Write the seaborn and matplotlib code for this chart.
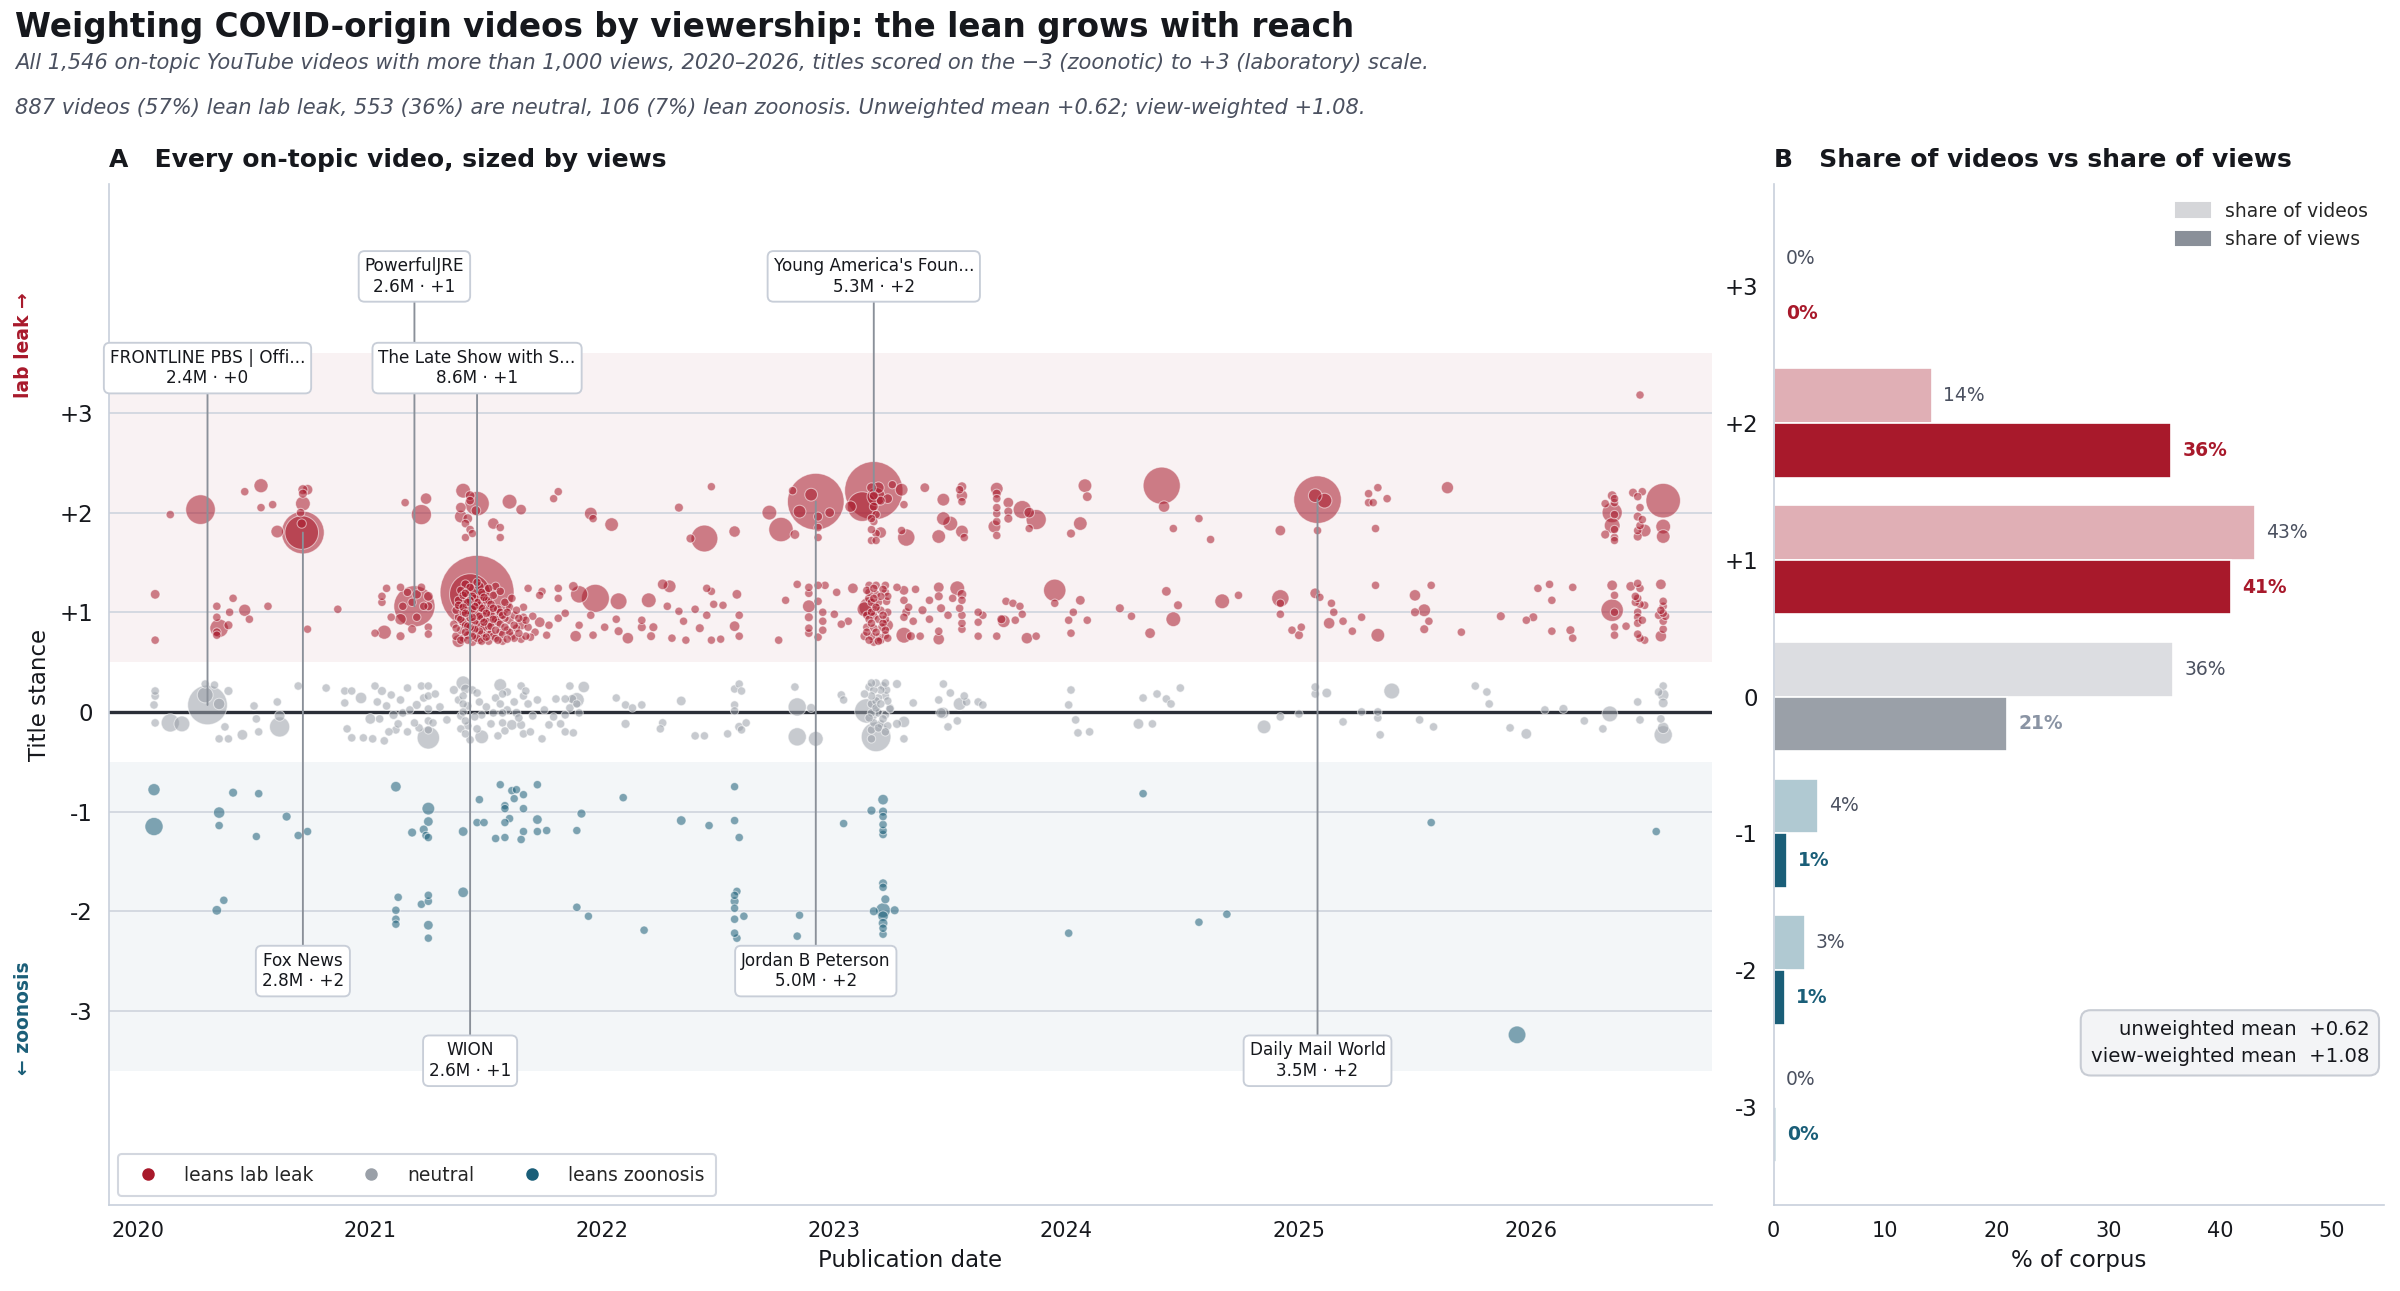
import numpy as np
import pandas as pd
import matplotlib
matplotlib.use("Agg")
import matplotlib.pyplot as plt
import matplotlib.dates as mdates
import matplotlib.transforms as mtransforms
from matplotlib.lines import Line2D
from matplotlib.patches import Patch
import seaborn as sns

# ---------------------------------------------------------------- data
# each point: (decimal year, plotted stance position incl. spread, views in thousands)
STANCE_P3 = [(2026.47, 3.18, 12)]

STANCE_P2 = [
    (2020.27, 2.03, 1300), (2020.14, 1.98, 15), (2020.46, 2.21, 15), (2020.53, 2.27, 220),
    (2020.53, 2.05, 15), (2020.58, 2.08, 15), (2020.71, 2.23, 60), (2020.71, 2.19, 30),
    (2020.71, 2.09, 250), (2020.70, 2.00, 20), (2020.73, 2.23, 80), (2020.705, 1.80, 1700),
    (2020.705, 1.89, 40), (2020.60, 1.81, 160), (2021.15, 2.10, 15), (2021.24, 2.14, 110),
    (2021.22, 1.98, 550), (2021.40, 2.22, 250), (2021.46, 2.09, 850), (2021.43, 2.17, 50),
    (2021.43, 2.12, 20), (2021.39, 2.05, 80), (2021.39, 1.96, 160), (2021.42, 1.94, 50),
    (2021.41, 1.89, 20), (2021.43, 1.83, 15), (2021.41, 1.75, 12), (2021.44, 1.79, 12),
    (2021.455, 2.02, 50), (2021.60, 2.11, 250), (2021.65, 2.03, 80), (2021.53, 1.89, 110),
    (2021.56, 1.85, 15), (2021.56, 1.75, 12), (2021.81, 2.21, 15), (2021.79, 2.14, 12),
    (2021.95, 1.99, 160), (2021.96, 1.94, 15), (2022.04, 1.88, 200), (2022.33, 2.05, 30),
    (2022.47, 2.26, 12), (2022.44, 1.74, 1050), (2022.38, 1.74, 30), (2022.57, 1.81, 110),
    (2022.72, 2.00, 250), (2022.77, 1.83, 850), (2022.90, 2.18, 160), (2022.82, 2.22, 15),
    (2022.85, 2.01, 160), (2022.98, 2.00, 50), (2022.93, 1.96, 30), (2022.93, 1.85, 15),
    (2022.93, 1.75, 12), (2022.83, 1.78, 50), (2023.12, 2.06, 1300), (2023.18, 2.16, 430),
    (2023.16, 2.25, 50), (2023.19, 2.25, 110), (2023.17, 2.17, 30), (2023.20, 2.12, 30),
    (2023.17, 2.06, 30), (2023.18, 1.98, 15), (2023.16, 1.94, 15), (2023.17, 1.91, 15),
    (2023.16, 1.83, 15), (2023.18, 1.79, 15), (2023.16, 1.72, 12), (2023.18, 1.72, 12),
    (2023.20, 1.80, 110), (2023.23, 2.14, 50), (2023.25, 2.28, 12), (2023.29, 2.23, 160),
    (2023.30, 2.08, 15), (2023.29, 1.82, 15), (2023.31, 1.75, 380), (2023.07, 2.06, 110),
    (2023.39, 2.25, 50), (2023.47, 2.13, 160), (2023.47, 1.94, 200), (2023.50, 1.89, 250),
    (2023.45, 1.76, 200), (2023.55, 2.26, 50), (2023.54, 2.23, 15), (2023.55, 2.17, 110),
    (2023.55, 2.11, 15), (2023.55, 1.81, 160), (2023.56, 1.75, 15), (2023.70, 2.24, 160),
    (2023.70, 2.19, 30), (2023.70, 2.14, 15), (2023.70, 2.05, 15), (2023.70, 1.99, 15),
    (2023.70, 1.91, 15), (2023.69, 1.86, 160), (2023.70, 1.77, 15), (2023.75, 2.10, 80),
    (2023.75, 2.01, 30), (2023.75, 1.94, 30), (2023.81, 2.03, 430), (2023.87, 1.93, 550),
    (2023.84, 2.00, 80), (2023.84, 1.84, 12), (2024.08, 2.27, 200), (2024.09, 2.16, 50),
    (2024.06, 1.89, 200), (2024.02, 1.79, 30), (2024.41, 2.27, 2100), (2024.42, 2.06, 110),
    (2024.46, 1.84, 15), (2024.57, 1.94, 15), (2024.62, 1.73, 15), (2025.07, 2.17, 200),
    (2025.11, 2.12, 250), (2025.08, 1.82, 15), (2024.92, 1.82, 80), (2025.30, 2.19, 15),
    (2025.34, 2.25, 15), (2025.38, 2.14, 15), (2025.30, 2.10, 15), (2025.32, 2.10, 12),
    (2025.33, 1.84, 15), (2025.64, 2.25, 140), (2026.35, 2.17, 50), (2026.36, 2.14, 15),
    (2026.36, 2.10, 15), (2026.32, 2.09, 15), (2026.35, 2.00, 550), (2026.36, 1.98, 15),
    (2026.35, 1.87, 300), (2026.36, 1.83, 15), (2026.32, 1.78, 30), (2026.36, 1.75, 15),
    (2026.36, 1.72, 12), (2026.44, 2.20, 30), (2026.48, 2.21, 15), (2026.46, 2.16, 15),
    (2026.47, 2.05, 15), (2026.46, 1.96, 30), (2026.48, 1.93, 15), (2026.47, 1.87, 15),
    (2026.49, 1.82, 160), (2026.46, 1.82, 15), (2026.46, 1.76, 30), (2026.57, 2.12, 1800),
    (2026.57, 1.86, 250), (2026.57, 1.76, 200),
]

STANCE_P1 = [
    (2020.075, 1.18, 50), (2020.075, 0.72, 15), (2020.34, 1.06, 15), (2020.34, 0.95, 15),
    (2020.35, 0.84, 450), (2020.34, 0.77, 15), (2020.34, 0.80, 20), (2020.39, 0.87, 30),
    (2020.41, 1.14, 15), (2020.395, 1.00, 15), (2020.46, 1.02, 140), (2020.48, 0.93, 15),
    (2020.56, 1.06, 15), (2020.73, 0.83, 12), (2020.86, 1.03, 15), (2021.07, 1.24, 15),
    (2021.05, 1.16, 15), (2021.05, 1.10, 15), (2021.02, 0.79, 12), (2021.06, 0.80, 220),
    (2021.09, 0.95, 15), (2021.13, 0.76, 30), (2021.13, 1.25, 15), (2021.16, 1.20, 15),
    (2021.14, 1.06, 15), (2021.18, 1.10, 15), (2021.25, 1.16, 50), (2021.25, 1.06, 30),
    (2021.23, 1.06, 15), (2021.20, 0.95, 15), (2021.18, 0.83, 30), (2021.25, 0.85, 15),
    (2021.25, 0.78, 12), (2021.13, 0.93, 110), (2021.22, 1.25, 20), (2021.20, 1.18, 40),
    (2021.36, 0.88, 15), (2021.37, 0.76, 30), (2021.37, 1.02, 15), (2021.38, 0.71, 160),
    (2021.38, 0.95, 15), (2021.38, 1.12, 15), (2021.39, 0.82, 15), (2021.39, 1.22, 15),
    (2021.40, 0.74, 15), (2021.40, 0.90, 30), (2021.40, 1.05, 15), (2021.41, 0.99, 15),
    (2021.41, 0.80, 15), (2021.41, 1.28, 30), (2021.42, 0.72, 15), (2021.42, 0.86, 15),
    (2021.42, 1.10, 15), (2021.43, 0.94, 15), (2021.43, 0.78, 30), (2021.43, 1.25, 15),
    (2021.44, 1.03, 15), (2021.44, 0.70, 15), (2021.44, 0.84, 15), (2021.45, 0.91, 15),
    (2021.45, 1.14, 15), (2021.45, 0.76, 15), (2021.46, 1.30, 15), (2021.46, 0.97, 15),
    (2021.46, 0.82, 30), (2021.47, 0.72, 15), (2021.47, 1.07, 15), (2021.47, 0.88, 15),
    (2021.48, 1.20, 15), (2021.48, 0.78, 15), (2021.48, 0.94, 15), (2021.49, 1.01, 15),
    (2021.49, 0.85, 15), (2021.49, 0.74, 15), (2021.50, 1.12, 15), (2021.50, 0.91, 15),
    (2021.50, 0.80, 80), (2021.51, 1.24, 15), (2021.51, 0.71, 15), (2021.52, 0.98, 15),
    (2021.52, 0.86, 15), (2021.52, 1.08, 15), (2021.53, 0.76, 15), (2021.53, 1.17, 15),
    (2021.54, 0.93, 15), (2021.54, 0.82, 15), (2021.55, 1.03, 30), (2021.55, 0.72, 15),
    (2021.56, 0.88, 15), (2021.56, 1.21, 15), (2021.57, 0.97, 15), (2021.57, 0.78, 15),
    (2021.58, 1.10, 15), (2021.58, 0.85, 15), (2021.59, 0.73, 15), (2021.59, 1.00, 15),
    (2021.60, 0.92, 30), (2021.60, 0.80, 15), (2021.61, 1.14, 15), (2021.62, 0.87, 15),
    (2021.62, 0.74, 15), (2021.63, 1.02, 15), (2021.64, 0.94, 15), (2021.64, 0.79, 15),
    (2021.65, 0.88, 110), (2021.66, 1.05, 15), (2021.67, 0.76, 15), (2021.67, 0.92, 15),
    (2021.47, 1.26, 40), (2021.44, 1.16, 15), (2021.40, 1.17, 15), (2021.51, 1.03, 15),
    (2021.54, 1.26, 15), (2021.37, 0.84, 15), (2021.38, 1.07, 15), (2021.39, 0.93, 15),
    (2021.39, 0.72, 15), (2021.40, 1.00, 15), (2021.41, 0.87, 15), (2021.41, 1.19, 15),
    (2021.42, 0.77, 15), (2021.42, 1.02, 30), (2021.43, 0.85, 15), (2021.43, 1.12, 15),
    (2021.44, 0.95, 15), (2021.44, 0.76, 15), (2021.45, 1.06, 15), (2021.45, 0.83, 15),
    (2021.46, 0.74, 15), (2021.46, 1.10, 15), (2021.47, 0.96, 15), (2021.47, 0.81, 15),
    (2021.48, 1.04, 15), (2021.48, 0.71, 15), (2021.49, 0.90, 15), (2021.49, 1.15, 15),
    (2021.50, 0.75, 15), (2021.50, 0.99, 15), (2021.51, 0.86, 15), (2021.51, 1.12, 15),
    (2021.52, 0.79, 15), (2021.53, 0.93, 15), (2021.53, 1.04, 15), (2021.54, 0.74, 15),
    (2021.55, 0.90, 15), (2021.56, 0.80, 15), (2021.56, 1.00, 15), (2021.57, 0.71, 15),
    (2021.58, 0.94, 15), (2021.59, 0.82, 15), (2021.60, 1.05, 15), (2021.61, 0.76, 15),
    (2021.62, 0.97, 15), (2021.63, 0.84, 15), (2021.65, 0.73, 15), (2021.66, 0.95, 15),
    (2021.68, 0.85, 15), (2021.70, 0.96, 15), (2021.71, 0.80, 15),
    (2021.68, 1.24, 12), (2021.74, 1.21, 12), (2021.73, 1.17, 12),
    (2021.81, 1.24, 15), (2021.81, 1.14, 12), (2021.875, 1.26, 50), (2021.90, 1.18, 380),
    (2021.97, 1.14, 1150), (2022.07, 1.11, 350), (2022.20, 1.12, 250), (2022.26, 1.28, 80),
    (2022.29, 1.26, 160), (2022.28, 1.06, 15), (2022.33, 1.01, 12), (2022.40, 1.03, 15),
    (2022.45, 1.24, 15), (2022.47, 1.21, 15), (2022.48, 1.08, 12), (2022.52, 1.07, 12),
    (2022.58, 1.18, 50), (2022.59, 0.97, 15), (2022.57, 0.86, 80), (2022.59, 0.76, 15),
    (2022.45, 0.97, 15), (2022.42, 0.84, 30), (2022.47, 0.72, 12), (2022.51, 0.73, 12),
    (2022.36, 0.72, 12), (2022.30, 0.74, 15), (2022.35, 0.91, 12), (2022.22, 0.85, 30),
    (2022.21, 0.76, 30), (2022.17, 0.92, 15), (2022.17, 0.85, 30), (2022.11, 0.74, 110),
    (2022.07, 0.81, 30), (2022.01, 0.85, 15), (2022.06, 0.93, 15), (2021.95, 0.97, 15),
    (2021.96, 0.77, 15), (2021.885, 0.76, 110), (2021.90, 0.87, 12), (2021.84, 0.99, 15),
    (2021.81, 0.94, 15), (2021.77, 0.87, 15), (2021.76, 0.77, 12), (2021.69, 0.75, 15),
    (2021.73, 0.90, 80), (2022.76, 0.72, 15), (2022.79, 1.12, 12), (2022.84, 1.28, 15),
    (2022.89, 1.25, 15), (2022.89, 1.19, 15), (2022.89, 1.06, 160), (2022.89, 0.95, 30),
    (2022.89, 0.84, 15), (2022.89, 0.79, 15), (2022.93, 1.27, 15), (2022.96, 1.27, 15),
    (2022.93, 1.11, 15), (2022.95, 1.00, 15), (2022.95, 0.91, 15), (2022.95, 0.82, 15),
    (2022.93, 0.75, 15), (2023.01, 1.20, 15), (2023.00, 0.98, 15), (2023.03, 0.88, 15),
    (2023.06, 0.91, 15), (2023.08, 1.24, 80),
    (2023.15, 1.27, 15), (2023.18, 1.27, 15), (2023.22, 1.27, 15), (2023.15, 1.20, 15),
    (2023.18, 1.18, 15), (2023.22, 1.20, 15), (2023.16, 1.10, 15), (2023.19, 1.10, 15),
    (2023.225, 1.11, 15), (2023.13, 1.03, 250), (2023.16, 1.00, 15), (2023.20, 1.02, 15),
    (2023.23, 1.00, 15), (2023.15, 0.93, 15), (2023.19, 0.93, 15), (2023.22, 0.93, 15),
    (2023.14, 0.85, 15), (2023.17, 0.84, 15), (2023.205, 0.85, 15), (2023.23, 0.87, 110),
    (2023.16, 0.76, 15), (2023.19, 0.75, 15), (2023.22, 0.77, 15), (2023.17, 0.70, 15),
    (2023.13, 0.76, 30), (2023.15, 1.05, 550), (2023.17, 1.14, 15), (2023.20, 1.16, 15),
    (2023.18, 1.05, 15), (2023.21, 0.89, 15), (2023.16, 0.89, 15), (2023.18, 0.80, 15),
    (2023.20, 0.72, 15), (2023.15, 1.14, 30), (2023.14, 1.22, 15), (2023.17, 1.24, 15),
    (2023.21, 1.23, 15), (2023.23, 1.16, 15), (2023.14, 0.97, 15), (2023.17, 0.96, 15),
    (2023.21, 0.97, 15), (2023.14, 0.80, 15), (2023.22, 0.82, 15), (2023.15, 0.72, 15),
    (2023.19, 0.71, 15), (2023.23, 0.74, 15),
    (2023.27, 1.25, 15), (2023.30, 1.22, 50), (2023.35, 1.23, 15), (2023.30, 1.12, 15),
    (2023.32, 1.05, 15), (2023.30, 0.95, 15), (2023.31, 1.00, 30), (2023.34, 0.91, 15),
    (2023.30, 0.77, 300), (2023.33, 0.76, 30), (2023.37, 0.76, 15), (2023.38, 1.02, 30),
    (2023.41, 0.93, 15), (2023.41, 1.12, 15), (2023.45, 1.25, 80), (2023.45, 1.16, 30),
    (2023.46, 1.04, 30), (2023.45, 0.81, 15), (2023.45, 0.73, 110), (2023.49, 0.97, 15),
    (2023.51, 1.14, 15), (2023.53, 1.24, 250), (2023.55, 1.18, 50), (2023.55, 1.12, 15),
    (2023.54, 1.04, 15), (2023.55, 0.97, 15), (2023.55, 0.89, 15), (2023.55, 0.83, 15),
    (2023.62, 1.00, 15), (2023.62, 0.90, 12), (2023.62, 0.76, 12), (2023.64, 0.97, 15),
    (2023.70, 0.76, 15), (2023.74, 1.11, 15), (2023.77, 1.09, 12), (2023.72, 0.93, 30),
    (2023.73, 0.91, 160), (2023.78, 0.92, 15), (2023.80, 1.06, 12), (2023.81, 0.98, 12),
    (2023.83, 0.74, 110), (2023.87, 0.76, 15), (2023.95, 1.22, 700), (2023.95, 1.09, 15),
    (2024.06, 1.12, 50), (2024.03, 1.00, 15), (2024.01, 0.92, 15), (2024.09, 0.92, 15),
    (2024.02, 0.79, 15), (2024.23, 1.04, 30), (2024.28, 0.96, 15), (2024.36, 0.79, 80),
    (2024.43, 1.21, 50), (2024.48, 1.07, 30), (2024.46, 0.93, 250), (2024.67, 1.11, 250),
    (2024.74, 1.17, 15), (2024.92, 1.14, 380), (2024.92, 1.09, 15), (2024.92, 0.98, 15),
    (2024.97, 0.82, 15), (2025.01, 0.85, 15), (2025.00, 0.77, 30), (2025.07, 1.19, 80),
    (2025.09, 1.15, 12), (2025.14, 1.09, 15), (2025.15, 1.00, 15), (2025.13, 0.89, 110),
    (2025.19, 0.91, 15), (2025.23, 0.81, 15), (2025.27, 0.95, 15), (2025.33, 1.27, 15),
    (2025.34, 0.77, 200), (2025.50, 1.17, 110), (2025.50, 1.00, 30), (2025.54, 1.02, 160),
    (2025.56, 0.91, 15), (2025.54, 0.83, 30), (2025.57, 1.27, 15), (2025.70, 0.80, 15),
    (2025.87, 0.96, 30), (2025.98, 0.92, 15), (2026.01, 0.95, 30), (2026.03, 1.24, 15),
    (2026.08, 1.28, 15), (2026.09, 1.12, 15), (2026.09, 0.81, 15), (2026.17, 0.82, 30),
    (2026.18, 0.74, 15), (2026.18, 1.25, 15), (2026.35, 1.27, 80), (2026.36, 1.17, 15),
    (2026.35, 1.02, 700), (2026.36, 1.00, 15), (2026.36, 0.85, 15), (2026.36, 0.77, 15),
    (2026.41, 0.86, 15), (2026.43, 1.26, 50), (2026.46, 1.29, 15), (2026.47, 1.24, 15),
    (2026.45, 1.16, 15), (2026.46, 1.14, 15), (2026.45, 1.10, 15), (2026.47, 1.08, 15),
    (2026.49, 1.07, 15), (2026.46, 1.00, 15), (2026.46, 0.95, 15), (2026.48, 0.92, 15),
    (2026.46, 0.89, 15), (2026.46, 0.78, 15), (2026.47, 0.74, 15), (2026.49, 0.72, 15),
    (2026.56, 1.28, 80), (2026.57, 1.11, 15), (2026.57, 1.06, 15), (2026.56, 1.02, 15),
    (2026.57, 0.99, 15), (2026.55, 0.97, 15), (2026.58, 0.96, 15), (2026.57, 0.91, 15),
    (2026.57, 0.83, 15), (2026.56, 0.76, 110),
]

STANCE_0 = [
    (2020.29, 0.17, 300), (2020.075, 0.21, 15), (2020.075, 0.16, 15), (2020.07, 0.07, 15),
    (2020.075, -0.11, 15), (2020.14, -0.11, 430), (2020.19, -0.12, 300), (2020.29, 0.28, 12),
    (2020.33, 0.27, 12), (2020.35, 0.08, 110), (2020.39, 0.21, 30), (2020.375, -0.15, 15),
    (2020.35, -0.27, 12), (2020.39, -0.27, 12), (2020.45, -0.23, 80), (2020.50, 0.06, 15),
    (2020.51, -0.07, 15), (2020.52, -0.20, 12), (2020.60, 0.10, 15), (2020.61, -0.04, 80),
    (2020.61, -0.15, 550), (2020.69, 0.26, 15), (2020.81, 0.24, 15), (2020.89, 0.21, 12),
    (2020.92, 0.21, 12), (2020.89, 0.09, 12), (2020.90, -0.17, 12), (2020.92, -0.26, 15),
    (2020.97, -0.26, 12), (2020.96, 0.14, 110), (2021.00, -0.07, 80), (2021.02, 0.26, 12),
    (2021.05, 0.21, 30), (2021.07, 0.06, 15), (2021.09, 0.17, 12), (2021.10, -0.03, 30),
    (2021.04, -0.07, 15), (2021.01, -0.27, 15), (2021.06, -0.29, 15), (2021.11, -0.18, 15),
    (2021.16, 0.24, 12), (2021.20, 0.07, 30), (2021.22, 0.26, 12), (2021.25, 0.26, 12),
    (2021.25, 0.16, 12), (2021.25, 0.03, 12), (2021.25, -0.09, 12), (2021.25, -0.26, 700),
    (2021.25, -0.18, 12), (2021.28, 0.18, 12), (2021.27, -0.11, 12), (2021.14, -0.01, 15),
    (2021.12, -0.12, 15), (2021.16, -0.20, 12), (2021.19, -0.11, 12), (2021.36, 0.22, 30),
    (2021.40, 0.29, 220), (2021.41, 0.23, 50), (2021.40, 0.16, 12), (2021.40, 0.08, 12),
    (2021.40, 0.00, 12), (2021.41, -0.09, 12), (2021.39, -0.17, 12), (2021.41, -0.22, 12),
    (2021.43, -0.28, 15), (2021.48, -0.25, 200), (2021.46, 0.19, 15), (2021.47, 0.10, 12),
    (2021.45, -0.05, 12), (2021.48, -0.03, 15), (2021.53, -0.01, 12), (2021.56, 0.27, 160),
    (2021.57, 0.18, 12), (2021.56, 0.08, 12), (2021.57, -0.01, 12), (2021.57, -0.11, 12),
    (2021.58, -0.19, 12), (2021.55, -0.24, 12), (2021.61, -0.13, 80), (2021.63, -0.01, 30),
    (2021.65, 0.26, 15), (2021.66, 0.16, 12), (2021.68, 0.08, 15), (2021.67, 0.21, 12),
    (2021.65, -0.13, 30), (2021.66, -0.22, 15), (2021.69, -0.20, 12), (2021.74, -0.27, 12),
    (2021.77, -0.13, 15), (2021.79, -0.05, 12), (2021.80, 0.13, 15), (2021.84, 0.13, 15),
    (2021.84, -0.03, 12), (2021.86, 0.26, 15), (2021.87, 0.13, 30), (2021.84, -0.20, 12),
    (2021.875, -0.21, 12), (2021.89, 0.08, 12), (2021.90, -0.01, 12), (2021.92, 0.25, 110),
    (2021.89, 0.12, 250), (2021.03, 0.10, 15), (2021.08, -0.20, 15), (2021.13, 0.12, 15),
    (2021.17, 0.02, 15), (2021.21, -0.16, 15), (2021.23, 0.14, 15), (2021.30, 0.05, 15),
    (2021.33, -0.08, 15), (2021.38, 0.12, 15), (2021.39, -0.04, 15), (2021.42, 0.06, 15),
    (2021.42, -0.14, 15), (2021.44, 0.22, 15), (2021.46, -0.17, 15), (2021.50, 0.05, 15),
    (2021.52, -0.12, 15), (2021.54, 0.14, 15), (2021.59, 0.02, 15), (2021.59, 0.20, 15),
    (2021.62, 0.10, 15), (2021.64, -0.06, 15), (2021.70, -0.04, 15), (2021.72, 0.12, 15),
    (2021.75, 0.02, 15), (2021.82, -0.12, 15), (2021.86, 0.04, 15),
    (2022.06, 0.14, 12), (2022.10, 0.07, 15), (2022.13, 0.04, 12),
    (2022.17, 0.07, 15), (2022.10, -0.12, 30), (2022.25, -0.17, 12), (2022.26, -0.11, 15),
    (2022.34, 0.11, 50), (2022.40, -0.24, 15), (2022.44, -0.24, 12), (2022.54, -0.22, 12),
    (2022.57, 0.23, 12), (2022.59, 0.28, 12), (2022.60, 0.21, 12), (2022.57, 0.07, 12),
    (2022.57, 0.01, 12), (2022.59, -0.15, 30), (2022.62, -0.11, 12), (2022.60, -0.18, 12),
    (2022.84, 0.05, 430), (2022.84, -0.25, 430), (2022.92, -0.27, 250), (2022.90, 0.04, 30),
    (2022.83, 0.25, 15), (2023.03, 0.17, 15), (2023.04, 0.12, 12), (2023.14, 0.01, 850),
    (2023.18, -0.25, 1300), (2023.16, 0.29, 15), (2023.18, 0.29, 15), (2023.22, 0.29, 15),
    (2023.17, 0.22, 15), (2023.20, 0.22, 15), (2023.225, 0.22, 15), (2023.16, 0.16, 15),
    (2023.19, 0.14, 15), (2023.22, 0.16, 15), (2023.16, 0.08, 15), (2023.20, 0.08, 15),
    (2023.24, 0.04, 15), (2023.16, -0.01, 15), (2023.19, -0.01, 15), (2023.22, -0.03, 15),
    (2023.17, -0.11, 15), (2023.20, -0.12, 15), (2023.16, -0.18, 15), (2023.22, -0.20, 15),
    (2023.16, -0.27, 15), (2023.13, 0.18, 15), (2023.27, -0.12, 30), (2023.30, -0.10, 110),
    (2023.30, -0.27, 15), (2023.27, 0.28, 30), (2023.24, 0.03, 15), (2023.34, 0.09, 15),
    (2023.15, 0.25, 15), (2023.21, 0.26, 15), (2023.18, 0.11, 15), (2023.23, 0.11, 15),
    (2023.18, 0.04, 15), (2023.15, -0.06, 15), (2023.21, -0.07, 15), (2023.19, -0.16, 15),
    (2023.23, -0.14, 15),
    (2023.47, 0.28, 15), (2023.45, 0.12, 15), (2023.50, 0.19, 15), (2023.46, -0.01, 80),
    (2023.47, -0.01, 110), (2023.49, -0.15, 15), (2023.53, -0.09, 15), (2023.54, 0.08, 160),
    (2023.56, 0.16, 15), (2023.57, 0.10, 15), (2023.62, 0.10, 15), (2023.64, 0.07, 15),
    (2024.02, 0.22, 15), (2024.01, 0.07, 15), (2024.04, -0.08, 15), (2024.05, -0.21, 15),
    (2024.10, -0.20, 15), (2024.31, -0.12, 80), (2024.37, -0.12, 15), (2024.33, 0.14, 15),
    (2024.39, 0.18, 15), (2024.43, 0.13, 15), (2024.45, 0.08, 15), (2024.49, 0.24, 15),
    (2024.85, -0.15, 200), (2024.92, -0.05, 15), (2025.00, -0.02, 15), (2025.07, 0.25, 15),
    (2025.07, 0.18, 15), (2025.12, 0.19, 50), (2025.19, -0.10, 15), (2025.27, 0.00, 15),
    (2025.34, 0.00, 15), (2025.34, -0.06, 15), (2025.35, -0.23, 15), (2025.40, 0.21, 300),
    (2025.52, -0.08, 15), (2025.58, -0.15, 15), (2025.76, 0.26, 15), (2025.81, 0.20, 15),
    (2025.82, 0.08, 15), (2025.91, -0.16, 15), (2025.98, -0.22, 80), (2026.06, 0.02, 15),
    (2026.14, 0.03, 30), (2026.23, -0.09, 15), (2026.31, -0.17, 15), (2026.34, -0.02, 300),
    (2026.46, 0.10, 15), (2026.47, -0.08, 15), (2026.57, 0.26, 15), (2026.55, 0.20, 15),
    (2026.57, 0.17, 110), (2026.57, 0.09, 50), (2026.56, -0.07, 15), (2026.57, -0.16, 110),
    (2026.57, -0.23, 430),
]

STANCE_M1 = [
    (2020.07, -0.78, 140), (2020.07, -1.15, 430), (2020.35, -1.01, 110), (2020.35, -1.14, 15),
    (2020.41, -0.81, 30), (2020.52, -0.82, 15), (2020.64, -1.05, 30), (2020.51, -1.25, 12),
    (2020.69, -1.24, 15), (2020.73, -1.20, 15), (2021.11, -0.75, 80), (2021.25, -0.97, 160),
    (2021.25, -1.10, 50), (2021.23, -1.18, 30), (2021.18, -1.21, 30), (2021.24, -1.24, 15),
    (2021.25, -1.26, 15), (2021.40, -1.20, 50), (2021.46, -1.11, 15), (2021.49, -1.11, 15),
    (2021.47, -0.88, 15), (2021.56, -0.73, 12), (2021.61, -0.79, 15), (2021.63, -0.78, 12),
    (2021.62, -0.87, 12), (2021.66, -0.83, 12), (2021.58, -0.94, 12), (2021.58, -0.97, 12),
    (2021.66, -0.97, 15), (2021.60, -1.07, 15), (2021.58, -1.11, 12), (2021.66, -1.20, 15),
    (2021.54, -1.27, 15), (2021.58, -1.26, 12), (2021.65, -1.28, 15), (2021.72, -0.73, 15),
    (2021.72, -1.08, 50), (2021.72, -1.20, 15), (2021.76, -1.19, 15), (2021.89, -1.19, 12),
    (2021.91, -1.02, 30), (2022.09, -0.86, 15), (2022.34, -1.09, 50), (2022.46, -1.14, 15),
    (2022.57, -0.75, 12), (2022.57, -1.09, 15), (2022.59, -1.26, 15), (2023.21, -0.88, 80),
    (2023.16, -0.99, 30), (2023.21, -1.00, 30), (2023.21, -1.05, 15), (2023.21, -1.13, 15),
    (2023.21, -1.19, 15), (2023.21, -1.23, 15), (2023.04, -1.12, 15), (2024.33, -0.82, 15),
    (2025.57, -1.11, 15), (2026.54, -1.20, 15),
]

STANCE_M2 = [
    (2020.37, -1.89, 15), (2020.34, -1.99, 50), (2021.12, -1.86, 15), (2021.11, -1.99, 15),
    (2021.11, -2.08, 15), (2021.11, -2.13, 12), (2021.22, -1.93, 15), (2021.25, -1.84, 15),
    (2021.25, -1.90, 15), (2021.25, -2.14, 50), (2021.25, -2.27, 12), (2021.40, -1.81, 80),
    (2021.89, -1.96, 15), (2021.94, -2.05, 12), (2022.18, -2.19, 15), (2022.58, -1.80, 12),
    (2022.57, -1.84, 12), (2022.57, -1.90, 30), (2022.57, -1.97, 12), (2022.57, -2.08, 15),
    (2022.61, -2.05, 15), (2022.57, -2.22, 15), (2022.58, -2.27, 15), (2022.85, -2.04, 12),
    (2022.84, -2.25, 15), (2023.21, -1.72, 30), (2023.21, -1.76, 15), (2023.22, -1.88, 30),
    (2023.17, -2.00, 30), (2023.21, -1.99, 250), (2023.21, -2.05, 80), (2023.26, -1.99, 30),
    (2023.21, -2.12, 50), (2023.21, -2.17, 15), (2023.21, -2.23, 15), (2024.01, -2.22, 15),
    (2024.57, -2.11, 15), (2024.69, -2.03, 15),
]

STANCE_M3 = [(2025.94, -3.24, 400)]

# labelled videos: channel, decimal year, plotted position, views (M), stance
HL_CHANNEL = ["FRONTLINE PBS | Offi...", "PowerfulJRE", "The Late Show with S...",
              "Young America's Foun...", "Fox News", "Jordan B Peterson", "WION",
              "Daily Mail World"]
HL_YEAR = [2020.30, 2021.19, 2021.46, 2023.17, 2020.71, 2022.92, 2021.43, 2025.08]
HL_POS = [0.07, 1.06, 1.20, 2.22, 1.80, 2.11, 1.18, 2.13]
HL_VIEWS_M = [2.4, 2.6, 8.6, 5.3, 2.8, 5.0, 2.6, 3.5]
HL_STANCE = [0, 1, 1, 2, 2, 2, 1, 2]

# panel B: share of corpus by stance
STANCE_LABELS = ["+3", "+2", "+1", "0", "-1", "-2", "-3"]
SHARE_VIDEOS = [0.1, 14.2, 43.1, 35.8, 4.0, 2.8, 0.1]
SHARE_VIEWS = [0.1, 35.6, 41.0, 20.9, 1.2, 1.0, 0.2]
UNWEIGHTED_MEAN = 0.62
WEIGHTED_MEAN = 1.08

# ---------------------------------------------------------------- style
sns.set_style("white")
plt.rcParams["font.family"] = ["DejaVu Sans"]

RED, GREY, TEAL = "#a8192b", "#9aa0a8", "#1a5e78"
RED_L, GREY_L, TEAL_L = "#e0afb5", "#dcdde1", "#b0c9d2"
SPINE = "#c8d0dc"
LEAN_PALETTE = {"leans lab leak": RED, "neutral": GREY, "leans zoonosis": TEAL}


def to_date(y):
    yr = int(np.floor(y))
    start = pd.Timestamp(year=yr, month=1, day=1)
    end = pd.Timestamp(year=yr + 1, month=1, day=1)
    return start + (end - start) * (y - yr)


rows = []
for stance, pts in [(3, STANCE_P3), (2, STANCE_P2), (1, STANCE_P1), (0, STANCE_0),
                    (-1, STANCE_M1), (-2, STANCE_M2), (-3, STANCE_M3)]:
    for yr, pos, vk in pts:
        rows.append(dict(date=to_date(yr), y=pos, views=vk * 1000.0, stance=stance))
for yr, pos, vm, st in zip(HL_YEAR, HL_POS, HL_VIEWS_M, HL_STANCE):
    rows.append(dict(date=to_date(yr), y=pos, views=vm * 1e6, stance=st))
df = pd.DataFrame(rows)
df["lean"] = np.where(df.stance > 0, "leans lab leak",
                      np.where(df.stance < 0, "leans zoonosis", "neutral"))
df = df.sort_values("views", ascending=False).reset_index(drop=True)

# ---------------------------------------------------------------- figure
fig = plt.figure(figsize=(16, 8.6067), dpi=150)
axA = fig.add_axes([0.0453, 0.0664, 0.668, 0.7913])
axB = fig.add_axes([0.739, 0.0664, 0.2545, 0.7913])

fig.text(0.0064, 0.979, "Weighting COVID-origin videos by viewership: the lean grows with reach",
         fontsize=15.7, fontweight="bold", color="#16181d", va="center", ha="left")
fig.text(0.0064, 0.951,
         "All 1,546 on-topic YouTube videos with more than 1,000 views, 2020\u20132026, titles scored on the "
         "\u22123 (zoonotic) to +3 (laboratory) scale.",
         fontsize=10.1, style="italic", color="#4b5160", va="center", ha="left")
fig.text(0.0064, 0.916,
         "887 videos (57%) lean lab leak, 553 (36%) are neutral, 106 (7%) lean zoonosis. "
         "Unweighted mean +0.62; view-weighted +1.08.",
         fontsize=10.1, style="italic", color="#4b5160", va="center", ha="left")

# ---- panel A
axA.axhspan(0.5, 3.6, color="#f9f2f3", zorder=0, lw=0)
axA.axhspan(-3.6, -0.5, color="#f3f6f8", zorder=0, lw=0)
for t in range(-3, 4):
    if t != 0:
        axA.axhline(t, color="#d3d8e0", lw=0.9, zorder=0.5)
axA.axhline(0, color="#2b2f38", lw=1.6, zorder=1)

sns.scatterplot(data=df, x="date", y="y", hue="lean", palette=LEAN_PALETTE,
                size="views", sizes=(14, 1260), size_norm=(0, 8.6e6),
                alpha=0.55, edgecolor="white", linewidth=0.5, legend=False,
                ax=axA, zorder=2)

box_y = [3.45, 4.37, 3.45, 4.37, -2.6, -2.6, -3.5, -3.5]
for i in range(len(HL_CHANNEL)):
    label = f"{HL_CHANNEL[i]}\n{HL_VIEWS_M[i]:.1f}M \u00b7 {HL_STANCE[i]:+d}"
    d = mdates.date2num(to_date(HL_YEAR[i]))
    axA.annotate(label, xy=(d, HL_POS[i]), xytext=(d, box_y[i]),
                 ha="center", va="center", fontsize=8.1, color="#16181d",
                 bbox=dict(boxstyle="round,pad=0.35", fc="white", ec="#c8ced8", lw=0.9),
                 arrowprops=dict(arrowstyle="-", color="#8a9099", lw=0.9,
                                 shrinkA=0, shrinkB=0),
                 zorder=5)

axA.set_ylim(-4.95, 5.3)
axA.set_xlim(to_date(2019.875), to_date(2026.78))
axA.xaxis.set_major_locator(mdates.YearLocator())
axA.xaxis.set_major_formatter(mdates.DateFormatter("%Y"))
axA.set_yticks(range(-3, 4))
axA.set_yticklabels(["-3", "-2", "-1", "0", "+1", "+2", "+3"])
axA.tick_params(axis="both", labelsize=10, length=4, color="#555b66", colors="#16181d")
axA.tick_params(axis="y", labelsize=11)
axA.set_xlabel("Publication date", fontsize=11, color="#16181d")
axA.set_ylabel("Title stance", fontsize=11, color="#16181d", labelpad=4)
axA.set_title("A   Every on-topic video, sized by views", loc="left", fontsize=12,
              fontweight="bold", color="#16181d", pad=8)
for s in ["top", "right"]:
    axA.spines[s].set_visible(False)
for s in ["left", "bottom"]:
    axA.spines[s].set_color(SPINE)

trans = mtransforms.blended_transform_factory(axA.transAxes, axA.transData)
axA.text(-0.053, 3.68, "lab leak \u2192", transform=trans, rotation=90, color=RED,
         fontweight="bold", fontsize=9, ha="center", va="center")
axA.text(-0.053, -3.07, "\u2190 zoonosis", transform=trans, rotation=90, color=TEAL,
         fontweight="bold", fontsize=9, ha="center", va="center")

handles = [Line2D([], [], marker="o", ls="", color=c, markersize=5, label=l)
           for l, c in LEAN_PALETTE.items()]
legA = axA.legend(handles=handles, loc="lower left", ncol=3, fontsize=9, frameon=True,
                  columnspacing=2.1, handletextpad=0.9, borderpad=0.6, fancybox=True)
legA.get_frame().set_edgecolor("#c8ced8")
legA.get_frame().set_linewidth(1.0)

# ---- panel B
dfb = pd.DataFrame({
    "stance": STANCE_LABELS * 2,
    "share": SHARE_VIDEOS + SHARE_VIEWS,
    "measure": ["share of videos"] * 7 + ["share of views"] * 7,
})
sns.barplot(data=dfb, y="stance", x="share", hue="measure", order=STANCE_LABELS,
            hue_order=["share of videos", "share of views"], orient="h",
            errorbar=None, width=0.8, legend=False, ax=axB)
light = [RED_L, RED_L, RED_L, GREY_L, TEAL_L, TEAL_L, TEAL_L]
dark = [RED, RED, RED, GREY, TEAL, TEAL, TEAL]
lab_dark = [RED, RED, RED, "#8a94a4", TEAL, TEAL, TEAL]
for bar, c, v in zip(axB.containers[0], light, SHARE_VIDEOS):
    bar.set_facecolor(c)
    bar.set_edgecolor("white")
    bar.set_linewidth(0.8)
    yc = bar.get_y() + bar.get_height() / 2
    axB.text(v + 1.0, yc, f"{v:.0f}%", va="center", ha="left", fontsize=9, color="#4b5160")
for bar, c, lc, v in zip(axB.containers[1], dark, lab_dark, SHARE_VIEWS):
    bar.set_facecolor(c)
    bar.set_edgecolor("white")
    bar.set_linewidth(0.8)
    yc = bar.get_y() + bar.get_height() / 2
    axB.text(v + 1.0, yc, f"{v:.0f}%", va="center", ha="left", fontsize=9,
             color=lc, fontweight="bold")

axB.set_ylim(6.72, -0.75)
axB.set_xlim(0, 54.7)
axB.set_xticks(range(0, 51, 10))
axB.set_xlabel("% of corpus", fontsize=11, color="#16181d")
axB.set_ylabel("")
axB.tick_params(axis="both", labelsize=10, length=4, color="#555b66", colors="#16181d")
axB.tick_params(axis="y", labelsize=11)
axB.set_title("B   Share of videos vs share of views", loc="left", fontsize=12,
              fontweight="bold", color="#16181d", pad=8)
for s in ["top", "right"]:
    axB.spines[s].set_visible(False)
for s in ["left", "bottom"]:
    axB.spines[s].set_color(SPINE)

axB.legend(handles=[Patch(color="#d5d6d9", label="share of videos"),
                    Patch(color="#8a9099", label="share of views")],
           loc="upper right", frameon=False, fontsize=9, handlelength=1.8,
           bbox_to_anchor=(1.0, 0.999))
axB.text(0.975, 0.159,
         f"unweighted mean  {UNWEIGHTED_MEAN:+.2f}\nview-weighted mean  {WEIGHTED_MEAN:+.2f}",
         transform=axB.transAxes, ha="right", va="center", fontsize=9.5, color="#16181d",
         multialignment="right", linespacing=1.5,
         bbox=dict(boxstyle="round,pad=0.5", fc="#f3f4f6", ec="#c8ccd4", lw=1.0))

fig.savefig("out.png", dpi=150)
